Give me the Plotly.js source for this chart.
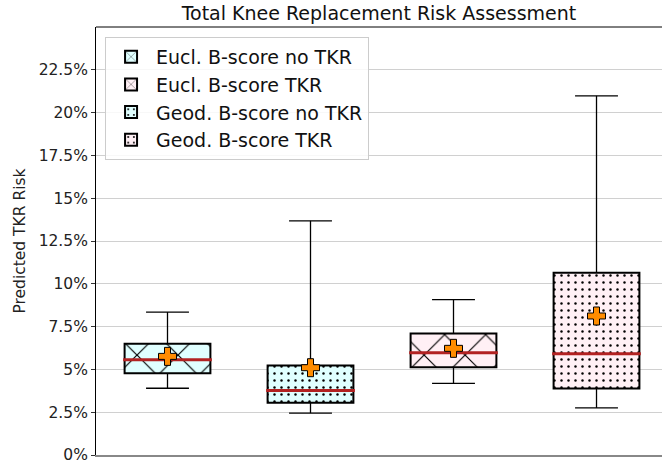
<!DOCTYPE html>
<html>
<head>
<meta charset="utf-8">
<script src="https://cdn.plot.ly/plotly-3.0.1.min.js"></script>
<style>html,body{margin:0;padding:0;background:#fff;}#chart{width:662px;height:466px;}</style>
</head>
<body>
<div id="chart"></div>
<script>
// Data (values in fraction of 1)
const names = ["Eucl. B-score no TKR", "Geod. B-score no TKR", "Eucl. B-score TKR", "Geod. B-score TKR"];
const positions = [1, 2, 3, 4];
const lowerWhisker = [0.0390, 0.0245, 0.0418, 0.0275];
const q1 = [0.0478, 0.0305, 0.0513, 0.0388];
const median = [0.0556, 0.0377, 0.0597, 0.0592];
const q3 = [0.0650, 0.0523, 0.0710, 0.1065];
const upperWhisker = [0.0835, 0.1368, 0.0907, 0.2098];
const means = [0.0576, 0.0510, 0.0623, 0.0812];
const fills = ["#e0ffff", "#e0ffff", "#fff0f5", "#fff0f5"];
const hatches = ["x", ".", "x", "."];
const legendRanks = [1, 3, 2, 4];
const yTickVals = [0, 0.025, 0.05, 0.075, 0.1, 0.125, 0.15, 0.175, 0.2, 0.225];
const yTickText = ["0%", "2.5%", "5%", "7.5%", "10%", "12.5%", "15%", "17.5%", "20%", "22.5%"];

const boxW = 0.6;
const capW = 0.3;
const traces = [];

// Boxes as bars with hatch patterns
positions.forEach((p, i) => {
  const isX = hatches[i] === "x";
  traces.push({
    type: "bar",
    name: names[i],
    legendgroup: "g" + i,
    x: [p],
    base: [q1[i]],
    y: [q3[i] - q1[i]],
    width: boxW,
    legendrank: legendRanks[i],
    marker: {
      color: fills[i],
      line: {color: "black", width: 2},
      pattern: isX
        ? {shape: "x", fgcolor: "black", fgopacity: 1, bgcolor: fills[i], size: 29, solidity: 0.08, fillmode: "overlay"}
        : {shape: ".", fgcolor: "black", fgopacity: 1, bgcolor: fills[i], size: 7, solidity: 0.1, fillmode: "overlay"}
    },
    hoverinfo: "skip"
  });
});

// Whiskers and caps
const wx = [], wy = [];
positions.forEach((p, i) => {
  wx.push(p, p, null, p, p, null, p - capW / 2, p + capW / 2, null, p - capW / 2, p + capW / 2, null);
  wy.push(q3[i], upperWhisker[i], null, q1[i], lowerWhisker[i], null, upperWhisker[i], upperWhisker[i], null, lowerWhisker[i], lowerWhisker[i], null);
});
traces.push({type: "scatter", mode: "lines", x: wx, y: wy, line: {color: "black", width: 1.3}, showlegend: false, hoverinfo: "skip", cliponaxis: false});

// Medians
const mx = [], my = [];
positions.forEach((p, i) => {
  mx.push(p - boxW / 2 - 0.01, p + boxW / 2 + 0.01, null);
  my.push(median[i], median[i], null);
});
traces.push({type: "scatter", mode: "lines", x: mx, y: my, line: {color: "#b22222", width: 3}, showlegend: false, hoverinfo: "skip"});

// Means
traces.push({
  type: "scatter", mode: "markers", x: positions, y: means,
  marker: {symbol: "cross", size: 15, color: "#ff8c00", line: {color: "black", width: 1}},
  showlegend: false, hoverinfo: "skip"
});

const layout = {
  width: 662, height: 466,
  margin: {l: 96, r: 0, t: 27, b: 11},
  paper_bgcolor: "white", plot_bgcolor: "white",
  font: {family: "DejaVu Sans, sans-serif", color: "#000"},
  title: {text: "Total Knee Replacement Risk Assessment", font: {size: 19, family: "DejaVu Sans", color: "#111"}, x: 0.5725, xanchor: "center", y: 0.972, yanchor: "middle"},
  showlegend: true,
  legend: {
    x: 0.016, y: 0.977, xanchor: "left", yanchor: "top",
    bgcolor: "rgba(255,255,255,0.85)", bordercolor: "#cccccc", borderwidth: 1,
    font: {size: 19, family: "DejaVu Sans", color: "#111"},
    traceorder: "grouped", tracegroupgap: 0, itemwidth: 40
  },
  barmode: "overlay",
  xaxis: {
    range: [0.5, 4.458], showticklabels: false, ticks: "", showgrid: false, zeroline: false,
    showline: true, linecolor: "#888888", linewidth: 1.5, fixedrange: true
  },
  yaxis: {
    range: [0, 0.25], tickvals: yTickVals, ticktext: yTickText,
    ticks: "outside", ticklen: 4, tickcolor: "#333", tickfont: {size: 15.5, color: "#222"},
    showgrid: true, gridcolor: "#d0d0d0", gridwidth: 1, zeroline: false,
    showline: true, linecolor: "black", linewidth: 1, mirror: false,
    title: {text: "Predicted TKR Risk", font: {size: 15.5, color: "#222"}, standoff: 9}
  },
  shapes: [
    {type: "line", xref: "paper", yref: "paper", x0: 0, x1: 1, y0: 1, y1: 1, line: {color: "black", width: 1}}
  ]
};

Plotly.newPlot("chart", traces, layout, {displayModeBar: false, staticPlot: true});
</script>
</body>
</html>
